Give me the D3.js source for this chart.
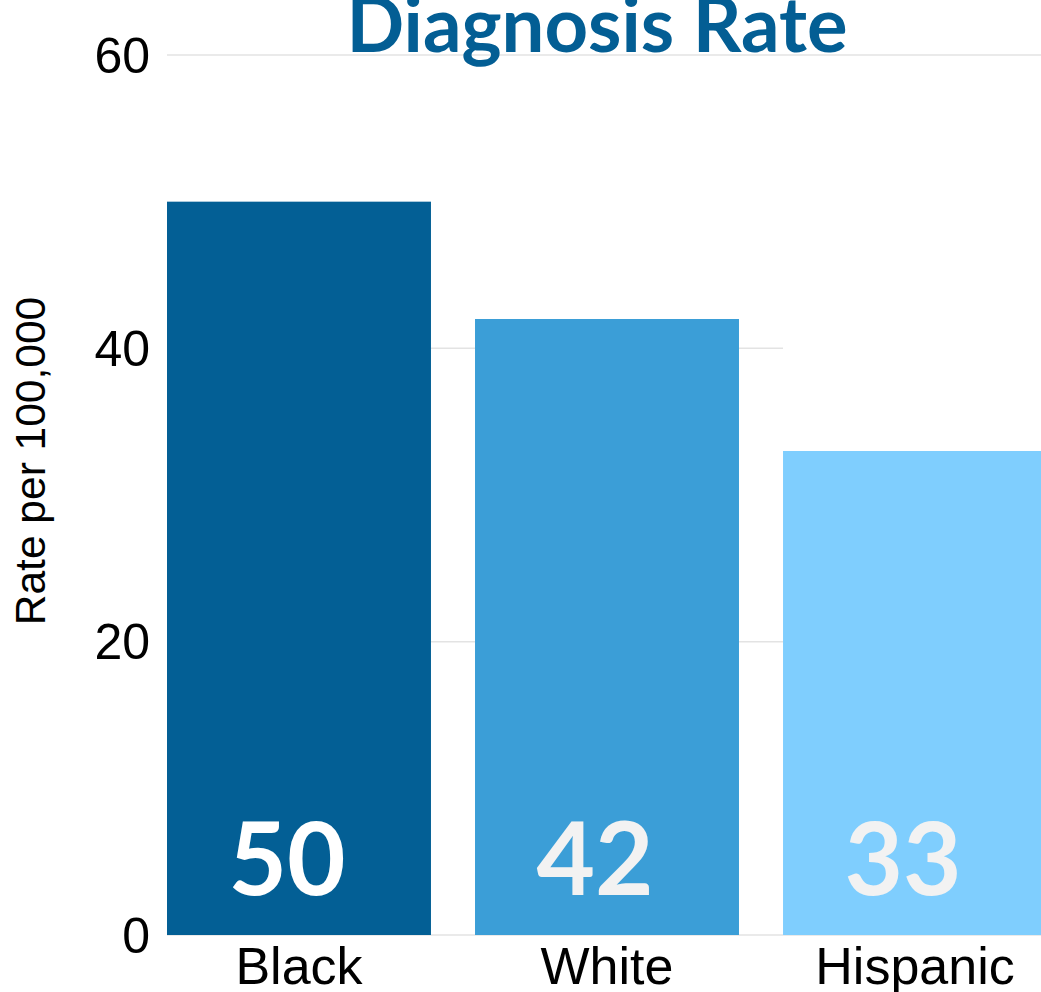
<!DOCTYPE html>
<html>
<head>
<meta charset="utf-8">
<script src="https://cdn.jsdelivr.net/npm/d3@7"></script>
<style>
  body { margin: 0; background: #fff; overflow: hidden; }
  svg { display: block; }
</style>
</head>
<body>
<div id="chart"></div>
<script>
// chart values
const groups = ["Black", "White", "Hispanic"];
const rates = [50, 42, 33];
const barColors = ["#035f95", "#3b9ed7", "#7fcefe"];
const labelColors = ["#ffffff", "#f2f2f2", "#f2f2f2"];
const yTicks = [0, 20, 40, 60];

const width = 1041, height = 992;
const margin = {top: 55, left: 167, bottom: 57};
const plotRight = 1047;

let svg = d3.select("#chart").append("svg")
    .attr("width", width)
    .attr("height", height);

let x = d3.scaleBand()
    .domain(groups)
    .range([margin.left, plotRight])
    .paddingInner(0.143)
    .paddingOuter(0);

let y = d3.scaleLinear()
    .domain([0, 60])
    .range([height - margin.bottom, margin.top]);

//gridlines behind the bars
svg.append("g")
    .selectAll("line")
    .data(yTicks)
    .enter()
    .append("line")
    .attr("x1", margin.left)
    .attr("x2", width)
    .attr("y1", d => y(d))
    .attr("y2", d => y(d))
    .attr("stroke", "#e3e3e3")
    .attr("stroke-width", 1.5);

// blank area over the right side, above the last bar
svg.append("rect")
    .attr("x", x("Hispanic"))
    .attr("y", y(60) + 2)
    .attr("width", width - x("Hispanic"))
    .attr("height", y(rates[2]) - y(60) - 2)
    .attr("fill", "#fff");

let data = groups.map((g, i) => ({group: g, rate: rates[i], color: barColors[i], label: labelColors[i]}));

svg.append("g")
    .selectAll("rect")
    .data(data)
    .enter()
    .append("rect")
    .attr("x", d => x(d.group))
    .attr("y", d => y(d.rate))
    .attr("width", x.bandwidth())
    .attr("height", d => y(0) - y(d.rate))
    .attr("fill", d => d.color);

// value labels inside bars
svg.append("g")
    .selectAll("text")
    .data(data)
    .enter()
    .append("text")
    .attr("x", d => x(d.group) + x.bandwidth() / 2 - 12)
    .attr("y", y(0) - 40)
    .attr("text-anchor", "middle")
    .attr("font-family", "Lato")
    .attr("font-weight", "bold")
    .attr("font-size", "101px")
    .attr("fill", d => d.label)
    .text(d => d.rate);

// y axis tick labels
svg.append("g")
    .selectAll("text")
    .data(yTicks)
    .enter()
    .append("text")
    .attr("x", 150)
    .attr("y", d => y(d))
    .attr("dy", "0.35em")
    .attr("text-anchor", "end")
    .attr("font-family", "Liberation Sans, Arial, sans-serif")
    .attr("font-size", "50px")
    .attr("fill", "#000")
    .text(d => d);

// x axis labels
svg.append("g")
    .selectAll("text")
    .data(groups)
    .enter()
    .append("text")
    .attr("x", d => x(d) + x.bandwidth() / 2)
    .attr("y", 984)
    .attr("text-anchor", "middle")
    .attr("font-family", "Liberation Sans, Arial, sans-serif")
    .attr("font-size", "52px")
    .attr("fill", "#000")
    .text(d => d);

// y axis title
svg.append("text")
    .attr("transform", "translate(45,461) rotate(-90)")
    .attr("text-anchor", "middle")
    .attr("font-family", "Liberation Sans, Arial, sans-serif")
    .attr("font-size", "42.5px")
    .attr("fill", "#000")
    .text("Rate per 100,000");

// title
svg.append("text")
    .attr("x", 597)
    .attr("y", 52)
    .attr("text-anchor", "middle")
    .attr("font-family", "Lato")
    .attr("font-weight", "bold")
    .attr("font-size", "76px")
    .attr("fill", "#035e94")
    .text("Diagnosis Rate");
</script>
</body>
</html>
